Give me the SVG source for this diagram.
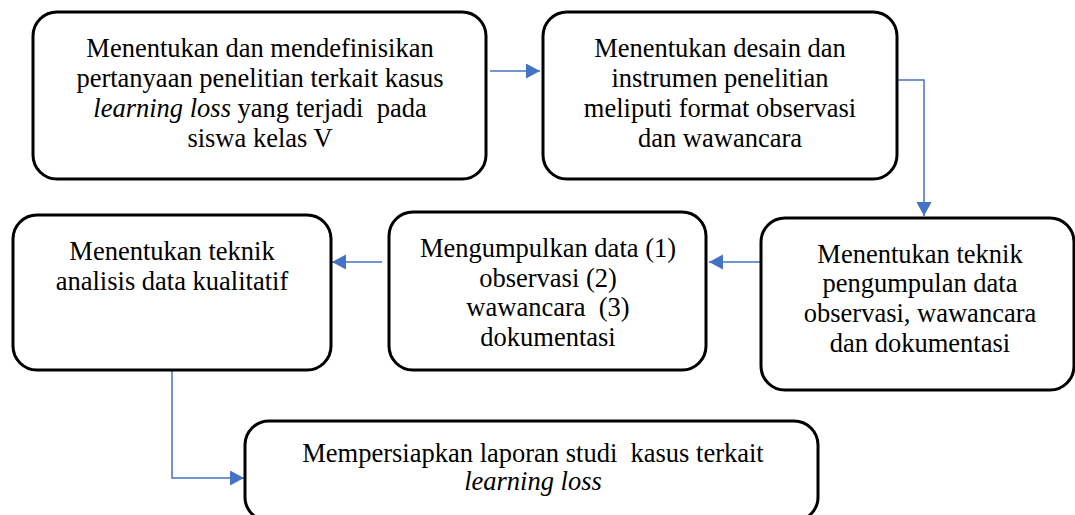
<svg xmlns="http://www.w3.org/2000/svg" width="1075" height="515" viewBox="0 0 1075 515">
<style>
.box{fill:#fff;stroke:#000;stroke-width:3}
.t{font-family:"Liberation Serif","Times New Roman",serif;font-size:26.5px;fill:#000;text-anchor:middle}
.i{font-style:italic}
.c{fill:none;stroke:#4472C4;stroke-width:1.5}
</style>
<defs>
<marker id="ah" markerUnits="userSpaceOnUse" markerWidth="15" markerHeight="16" refX="14" refY="7.5" orient="auto">
<path d="M0,0 L14,7.5 L0,15 z" fill="#4472C4"/>
</marker>
</defs>
<rect width="1075" height="515" fill="#fff"/>
<g id="connectors">
<path class="c" d="M490,71 H540" marker-end="url(#ah)"/>
<path class="c" d="M897,53 V80 H924 V216" marker-end="url(#ah)"/>
<path class="c" d="M760,262 H709" marker-end="url(#ah)"/>
<path class="c" d="M382,262 H332" marker-end="url(#ah)"/>
<path class="c" d="M172,370 V478 H244" marker-end="url(#ah)"/>
</g>
<g id="node1">
<rect class="box" x="33" y="12" width="453" height="167" rx="24"/>
<text class="t" x="260" y="57">Menentukan dan mendefinisikan</text>
<text class="t" x="260" y="87">pertanyaan penelitian terkait kasus</text>
<text class="t" x="260" y="117" xml:space="preserve"><tspan class="i">learning loss</tspan> yang terjadi  pada</text>
<text class="t" x="260" y="147">siswa kelas V</text>
</g>
<g id="node2">
<rect class="box" x="543" y="12" width="354" height="167" rx="24"/>
<text class="t" x="720" y="57">Menentukan desain dan</text>
<text class="t" x="720" y="87">instrumen penelitian</text>
<text class="t" x="720" y="117">meliputi format observasi</text>
<text class="t" x="720" y="147">dan wawancara</text>
</g>
<g id="node3">
<rect class="box" x="761" y="218" width="313" height="172" rx="24"/>
<text class="t" x="920" y="263">Menentukan teknik</text>
<text class="t" x="920" y="292">pengumpulan data</text>
<text class="t" x="920" y="322">observasi, wawancara</text>
<text class="t" x="920" y="352">dan dokumentasi</text>
</g>
<g id="node4">
<rect class="box" x="389" y="212" width="317" height="158" rx="24"/>
<text class="t" x="548" y="257">Mengumpulkan data (1)</text>
<text class="t" x="548" y="287">observasi (2)</text>
<text class="t" x="548" y="316" xml:space="preserve">wawancara  (3)</text>
<text class="t" x="548" y="346">dokumentasi</text>
</g>
<g id="node5">
<rect class="box" x="13" y="215" width="318" height="155" rx="24"/>
<text class="t" x="172" y="260">Menentukan teknik</text>
<text class="t" x="172" y="290">analisis data kualitatif</text>
</g>
<g id="node6">
<rect class="box" x="245" y="421" width="573" height="100" rx="24"/>
<text class="t" x="533" y="462" xml:space="preserve">Mempersiapkan laporan studi  kasus terkait</text>
<text class="t i" x="533" y="490">learning loss</text>
</g>
</svg>
